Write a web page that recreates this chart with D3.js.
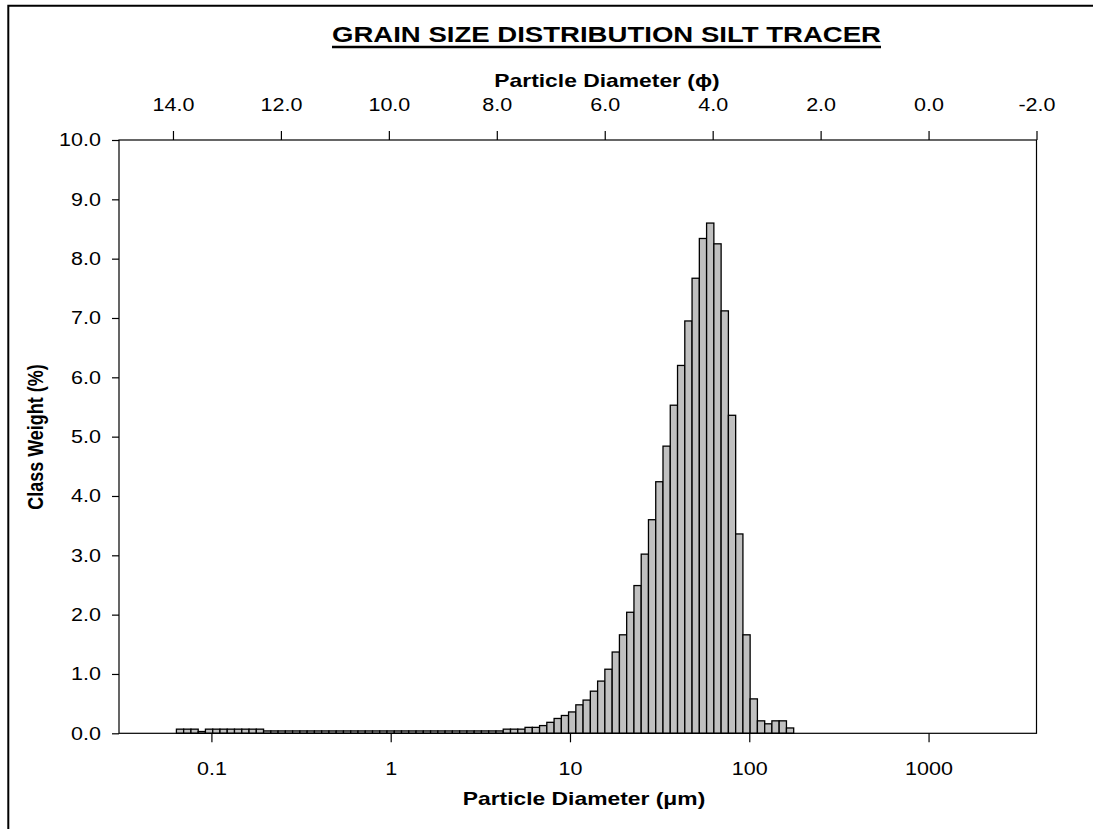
<!DOCTYPE html>
<html>
<head>
<meta charset="utf-8">
<script src="https://cdn.jsdelivr.net/npm/d3@7/dist/d3.min.js"></script>
<style>
  html, body { margin: 0; padding: 0; background: #fff; overflow: hidden; }
  svg { display: block; }
  text { font-family: "Liberation Sans", Arial, Helvetica, sans-serif; fill: #000; }
</style>
</head>
<body>
<svg id="chart" width="1093" height="829"></svg>
<script>
// Laser-diffraction size classes: lower/upper class limits in micrometres
const classEdges = [
  0.0439, 0.0482, 0.0529, 0.0581, 0.0638, 0.0700, 0.0769, 0.0844, 0.0926, 0.1017,
  0.1116, 0.1225, 0.1345, 0.1477, 0.1621, 0.1780, 0.1954, 0.2145, 0.2354, 0.2585,
  0.2837, 0.3115, 0.3419, 0.3754, 0.4121, 0.4524, 0.4966, 0.5452, 0.5985, 0.6570,
  0.7213, 0.7918, 0.8687, 0.9535, 1.047, 1.149, 1.261, 1.385, 1.520, 1.669,
  1.832, 2.011, 2.208, 2.424, 2.661, 2.921, 3.207, 3.521, 3.865, 4.243,
  4.658, 5.114, 5.614, 6.163, 6.766, 7.427, 8.154, 8.951, 9.818, 10.78,
  11.83, 12.99, 14.26, 15.65, 17.19, 18.87, 20.71, 22.74, 24.96, 27.40,
  30.08, 33.02, 36.25, 39.80, 43.69, 47.96, 52.66, 57.80, 63.46, 69.66,
  76.48, 83.96, 92.17, 101.1, 111.0, 121.9, 133.7, 146.8, 161.2, 176.9,
  194.2
];

// Class weight (%) of each size class
const classWeight = [
  0.00, 0.00, 0.00, 0.00, 0.07, 0.07, 0.07, 0.03, 0.07, 0.07,
  0.07, 0.07, 0.07, 0.07, 0.07, 0.07, 0.04, 0.04, 0.04, 0.04,
  0.04, 0.04, 0.04, 0.04, 0.04, 0.04, 0.04, 0.04, 0.04, 0.04,
  0.04, 0.04, 0.04, 0.04, 0.04, 0.04, 0.04, 0.04, 0.04, 0.04,
  0.04, 0.04, 0.04, 0.04, 0.04, 0.04, 0.04, 0.04, 0.04, 0.07,
  0.07, 0.07, 0.10, 0.10, 0.13, 0.185, 0.25, 0.30, 0.36, 0.48,
  0.56, 0.71, 0.88, 1.08, 1.37, 1.66, 2.04, 2.49, 3.02, 3.60,
  4.24, 4.84, 5.53, 6.20, 6.95, 7.67, 8.34, 8.60, 8.25, 7.12,
  5.36, 3.36, 1.66, 0.58, 0.21, 0.16, 0.21, 0.21, 0.09, 0.00
];

const phiTicks = [14, 12, 10, 8, 6, 4, 2, 0, -2];
const micronTicks = [0.1, 1, 10, 100, 1000];
const weightTicks = [0, 1, 2, 3, 4, 5, 6, 7, 8, 9, 10];

const titleText = "GRAIN SIZE DISTRIBUTION SILT TRACER";
const topAxisTitle = "Particle Diameter (\u03D5)";
const bottomAxisTitle = "Particle Diameter (\u03BCm)";
const leftAxisTitle = "Class Weight (%)";

// Layout
const plot = { left: 119, right: 1036.5, top: 140, bottom: 733.3 };
const SX = 1.27;            // horizontal stretch of the titles
const SX_TICK = 1.21;       // horizontal stretch of the tick labels
const svg = d3.select("#chart");

// Frame: only its left and top edges fall inside the page
svg.append("path")
  .attr("d", "M8.3,840 V5.7 H1100")
  .attr("fill", "none").attr("stroke", "#000").attr("stroke-width", 2);

// Scales: phi on top (linear), micrometres at bottom (log) sharing the same range
const phiScale = d3.scaleLinear().domain([15, -2]).range([plot.left, plot.right]);
const umScale = d3.scaleLog()
  .domain([1000 * Math.pow(2, -15), 1000 * Math.pow(2, 2)])
  .range([plot.left, plot.right]);
const yScale = d3.scaleLinear().domain([0, 10]).range([plot.bottom, plot.top]);

function stretchText(sel, s) {
  sel.each(function () {
    const t = d3.select(this);
    const x = +t.attr("x") || 0;
    t.attr("x", x / s).attr("transform", `scale(${s},1)`);
  });
}

// Bars
const bars = classWeight.map((v, i) => ({ lo: classEdges[i], hi: classEdges[i + 1], v }));
svg.append("g")
  .selectAll("rect")
  .data(bars)
  .join("rect")
  .attr("x", d => umScale(d.lo))
  .attr("width", d => umScale(d.hi) - umScale(d.lo))
  .attr("y", d => yScale(d.v))
  .attr("height", d => yScale(0) - yScale(d.v))
  .attr("fill", "#c0c0c0")
  .attr("stroke", "#000")
  .attr("stroke-width", 1.3);

// Plot area outline
svg.append("rect")
  .attr("x", plot.left).attr("y", plot.top)
  .attr("width", plot.right - plot.left).attr("height", plot.bottom - plot.top)
  .attr("fill", "none").attr("stroke", "#000").attr("stroke-width", 1.2);

const fmt = d => d3.format(".1f")(d).replace("\u2212", "-");

// Left axis
const gy = svg.append("g")
  .attr("transform", `translate(${plot.left},0)`)
  .call(d3.axisLeft(yScale).tickValues(weightTicks).tickFormat(fmt).tickSize(7).tickPadding(11));
gy.select(".domain").remove();
gy.selectAll("line").attr("stroke", "#000").attr("stroke-width", 1.2);
gy.selectAll("text").attr("font-size", 17.8).attr("font-family", null).call(stretchText, SX_TICK);

// Top (phi) axis
const gt = svg.append("g")
  .attr("transform", `translate(0,${plot.top})`)
  .call(d3.axisTop(phiScale).tickValues(phiTicks).tickFormat(fmt).tickSize(9).tickPadding(20));
gt.select(".domain").remove();
gt.selectAll("line").attr("stroke", "#000").attr("stroke-width", 1.2);
gt.selectAll("text").attr("font-size", 17.8).attr("font-family", null).call(stretchText, SX_TICK);

// Bottom (micrometre) axis
const gb = svg.append("g")
  .attr("transform", `translate(0,${plot.bottom})`)
  .call(d3.axisBottom(umScale).tickValues(micronTicks).tickFormat(d => String(d)).tickSize(9).tickPadding(20));
gb.select(".domain").remove();
gb.selectAll("line").attr("stroke", "#000").attr("stroke-width", 1.2);
gb.selectAll("text").attr("font-size", 17.8).attr("font-family", null).call(stretchText, SX_TICK);

// Titles
const title = svg.append("text")
  .attr("x", 606.5 / SX).attr("y", 42)
  .attr("transform", `scale(${SX},1)`)
  .attr("text-anchor", "middle")
  .attr("font-size", 21.7).attr("font-weight", "bold")
  .text(titleText);
const tw = title.node().getComputedTextLength() * SX;
svg.append("line")
  .attr("x1", 606.5 - tw / 2).attr("x2", 606.5 + tw / 2)
  .attr("y1", 47).attr("y2", 47)
  .attr("stroke", "#000").attr("stroke-width", 2.5);

svg.append("text")
  .attr("x", 607 / SX).attr("y", 87)
  .attr("transform", `scale(${SX},1)`)
  .attr("text-anchor", "middle")
  .attr("font-size", 18).attr("font-weight", "bold")
  .text(topAxisTitle);

svg.append("text")
  .attr("x", 584 / SX).attr("y", 805)
  .attr("transform", `scale(${SX},1)`)
  .attr("text-anchor", "middle")
  .attr("font-size", 18).attr("font-weight", "bold")
  .text(bottomAxisTitle);

svg.append("text")
  .attr("transform", `translate(43,437) scale(${SX},1) rotate(-90)`)
  .attr("text-anchor", "middle")
  .attr("font-size", 18).attr("font-weight", "bold")
  .text(leftAxisTitle);
</script>
</body>
</html>
